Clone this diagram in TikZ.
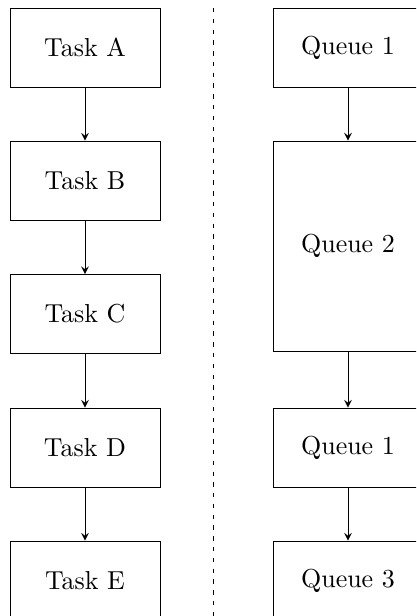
\documentclass[tikz,border=0pt]{standalone}
\usetikzlibrary{arrows}
\begin{document}
\begin{tikzpicture}[x=0.385pt,y=-0.385pt, line width=0.32pt,
  box/.style={draw, rectangle, minimum width=57.75pt, minimum height=30.4pt, inner sep=0pt},
  tallbox/.style={box, minimum height=80.9pt},
  link/.style={-stealth},
  sep/.style={dash pattern=on 1.7pt off 2.45pt}]
\useasboundingbox (0,0) rectangle (416,616);
\clip (0,0) rectangle (416,616);
% left column
\node[box] (a) at (85,47.5) {Task A};
\node[box] (b) at (85,180.5) {Task B};
\node[box] (c) at (85,314) {Task C};
\node[box] (d) at (85,447.5) {Task D};
\node[box] (e) at (85,580.5) {Task E};
\draw[link] (a) -- (b);
\draw[link] (b) -- (c);
\draw[link] (c) -- (d);
\draw[link] (d) -- (e);
% separator
\coordinate (st) at (213,8);
\coordinate (sb) at (213,640);
\draw[sep] (st) -- (sb);
% right column
\node[box] (q1) at (348,47.5) {Queue 1};
\node[tallbox] (q2) at (348,246) {Queue 2};
\node[box] (q1b) at (348,447.5) {Queue 1};
\node[box] (q3) at (348,580.5) {Queue 3};
\draw[link] (q1) -- (q2);
\draw[link] (q2) -- (q1b);
\draw[link] (q1b) -- (q3);
\end{tikzpicture}
\end{document}
